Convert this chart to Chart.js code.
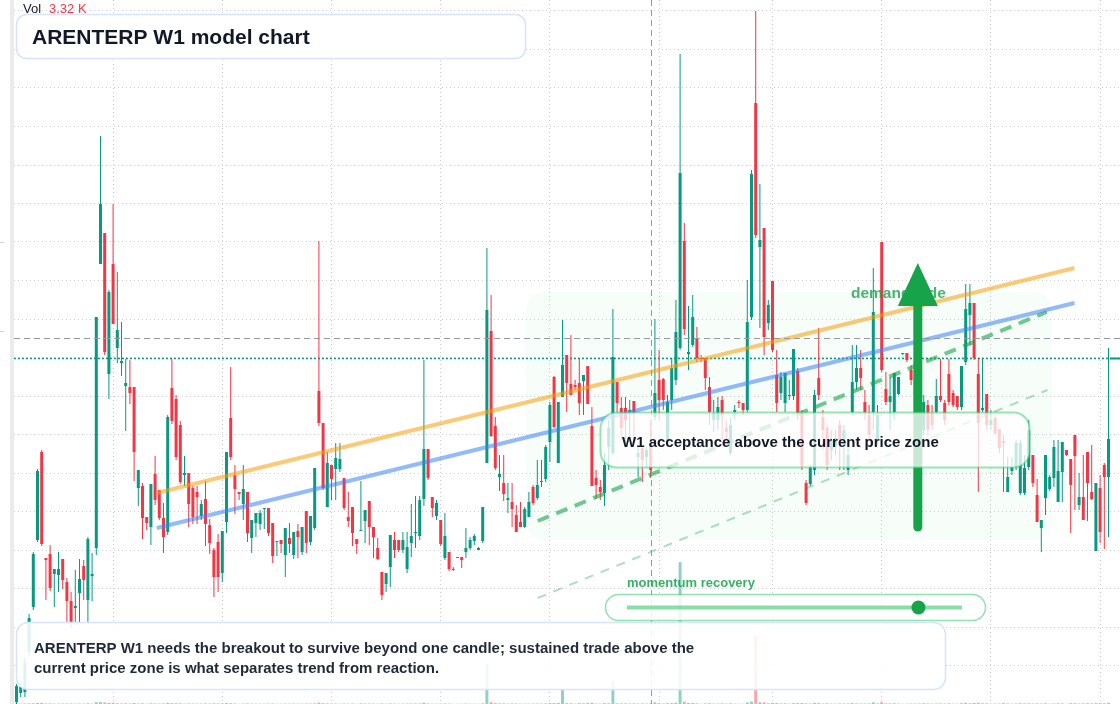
<!DOCTYPE html>
<html lang="en">
<head>
<meta charset="utf-8">
<title>ARENTERP W1 model chart</title>
<script src="https://cdn.jsdelivr.net/npm/chart.js@4.4.1/dist/chart.umd.min.js"></script>
<style>
  html, body { margin: 0; padding: 0; background: #ffffff; }
  canvas { display: block; }
</style>
</head>
<body>
<canvas id="w1Chart" width="1120" height="704"></canvas>
<script>
// weekly candles, oldest first (price units of the hidden right scale)
const opens = [
  2.02, 2.11, 2.12, 2.52, 2.97, 3.64, 4.52, 3.46, 3.50, 3.30,
  3.29, 3.45, 3.22, 3.03, 2.96, 3.11, 3.38, 3.04, 3.28, 3.56,
  6.40, 6.71, 5.30, 6.40, 5.56, 5.41, 5.18, 5.17, 5.17, 4.16,
  4.18, 3.87, 3.77, 4.30, 4.14, 3.86, 3.72, 5.16, 5.05, 4.79,
  4.29, 4.31, 4.16, 4.12, 3.88, 4.05, 3.79, 3.54, 3.62, 3.31,
  3.82, 4.86, 4.29, 4.12, 4.00, 4.12, 3.66, 3.81, 3.80, 3.95,
  3.96, 3.81, 3.62, 3.64, 3.49, 3.66, 3.49, 3.73, 3.52, 3.93,
  3.62, 3.76, 5.13, 4.81, 3.97, 4.39, 4.35, 4.35, 4.26, 3.87,
  3.97, 3.65, 3.73, 3.83, 4.03, 3.77, 3.56, 3.32, 3.20, 3.37,
  3.64, 3.64, 3.54, 3.35, 3.61, 3.71, 3.68, 4.05, 4.55, 4.07,
  3.88, 3.84, 3.46, 3.52, 3.35, 3.46, 3.47, 3.52, 3.56, 3.63,
  3.54, 3.63, 4.41, 5.73, 4.78, 4.27, 4.21, 4.04, 4.02, 3.89,
  3.82, 3.77, 3.87, 4.17, 4.06, 4.22, 4.25, 4.62, 5.27, 4.41,
  5.07, 5.49, 5.20, 5.19, 5.21, 5.23, 5.38, 4.78, 4.26, 4.17,
  4.11, 4.57, 4.51, 5.22, 4.96, 4.96, 4.92, 5.03, 4.47, 4.56,
  4.47, 4.61, 4.87, 5.24, 5.25, 4.64, 5.04, 5.24, 5.56, 6.63,
  5.50, 5.59, 5.66, 5.46, 5.46, 5.17, 4.84, 4.84, 5.04, 4.76,
  4.51, 4.92, 5.02, 5.01, 4.94, 5.87, 8.01, 6.57, 6.76, 5.81,
  6.23, 5.29, 5.11, 5.01, 5.08, 5.08, 5.33, 4.91, 4.21, 4.20,
  4.34, 5.26, 4.87, 4.76, 4.54, 4.58, 4.79, 4.59, 4.34, 4.92,
  5.22, 5.36, 5.02, 4.89, 4.92, 4.64, 6.62, 5.15, 5.02, 4.92,
  5.10, 5.50, 5.51, 5.34, 5.09, 5.19, 4.74, 4.99, 4.91, 4.92,
  5.08, 5.01, 5.30, 5.11, 5.08, 4.97, 5.42, 5.89, 6.01, 5.30,
  4.94, 5.10, 4.79, 4.86, 4.75, 4.63, 4.12, 4.33, 4.37, 4.11,
  4.11, 4.37, 4.49, 4.09, 3.76, 4.06, 4.15, 4.26, 4.02, 4.32,
  4.54, 4.45, 4.69, 3.99, 4.07, 4.52, 4.12, 3.53, 4.16, 4.39, 4.27
];
const highs = [
  2.20, 2.21, 2.46, 2.90, 3.52, 4.35, 4.54, 3.46, 3.59, 3.35,
  3.52, 3.45, 3.26, 3.12, 3.34, 3.45, 3.44, 3.67, 3.51, 5.87,
  7.68, 6.71, 6.14, 7.00, 6.32, 5.82, 5.45, 5.44, 5.17, 4.34,
  4.21, 3.87, 4.20, 4.48, 4.14, 4.01, 4.89, 5.45, 5.09, 4.83,
  4.48, 4.31, 4.18, 4.18, 4.04, 4.23, 3.85, 3.56, 3.70, 3.73,
  4.52, 5.37, 4.39, 4.12, 4.39, 4.12, 3.84, 3.91, 3.94, 3.96,
  3.96, 3.81, 3.63, 3.64, 3.76, 3.81, 3.72, 3.80, 3.77, 3.93,
  3.88, 4.36, 6.63, 4.81, 4.52, 4.39, 4.61, 4.61, 4.26, 4.12,
  3.97, 3.65, 4.23, 3.94, 4.03, 3.77, 3.66, 3.32, 3.31, 3.69,
  3.72, 3.64, 3.72, 3.72, 4.00, 4.08, 4.08, 5.44, 4.55, 4.07,
  4.04, 3.84, 3.91, 3.52, 3.37, 3.47, 3.47, 3.76, 3.67, 3.70,
  3.57, 3.97, 6.56, 6.09, 4.87, 4.49, 4.49, 4.21, 4.21, 3.99,
  4.02, 3.97, 4.12, 4.19, 4.44, 4.44, 4.59, 5.02, 5.28, 5.02,
  5.84, 5.49, 5.69, 5.24, 5.46, 5.29, 5.38, 4.97, 4.34, 4.24,
  4.51, 4.84, 5.95, 5.22, 5.07, 5.07, 5.04, 5.03, 4.58, 4.57,
  4.57, 4.84, 5.85, 5.54, 5.26, 5.09, 5.46, 6.04, 8.50, 6.81,
  5.98, 6.09, 5.77, 5.49, 5.46, 5.27, 5.04, 5.07, 5.08, 4.84,
  4.86, 4.99, 5.04, 5.01, 6.24, 7.34, 8.93, 7.20, 6.76, 6.04,
  6.23, 5.54, 5.32, 5.31, 5.24, 5.55, 5.36, 4.94, 4.24, 4.39,
  5.14, 5.76, 4.94, 4.79, 4.74, 4.74, 4.84, 4.79, 4.64, 5.59,
  5.59, 5.54, 5.14, 4.99, 6.36, 4.99, 6.62, 5.32, 5.27, 5.31,
  5.27, 5.51, 5.51, 5.39, 5.29, 5.24, 5.09, 5.04, 4.99, 5.25,
  5.45, 5.04, 5.45, 5.14, 5.08, 5.38, 6.20, 6.20, 6.01, 5.46,
  5.46, 5.10, 4.94, 4.89, 4.75, 4.69, 4.47, 4.47, 4.64, 4.64,
  4.49, 4.84, 4.49, 4.25, 3.84, 4.49, 4.29, 4.64, 4.64, 4.62,
  4.54, 4.45, 4.69, 4.31, 4.49, 4.52, 4.59, 4.21, 4.29, 4.41, 5.56
];
const lows = [
  2.00, 2.07, 2.07, 2.48, 2.94, 3.62, 3.58, 3.04, 3.13, 2.97,
  3.12, 3.15, 2.82, 2.76, 2.79, 2.82, 3.04, 2.82, 3.03, 3.49,
  6.40, 5.49, 5.05, 5.80, 5.41, 5.28, 4.73, 5.00, 4.23, 3.98,
  3.65, 3.74, 3.59, 3.99, 3.84, 3.51, 3.69, 4.80, 4.44, 4.20,
  4.18, 3.77, 3.80, 3.80, 3.84, 3.58, 3.50, 3.07, 3.12, 3.22,
  3.71, 4.44, 3.90, 4.04, 3.84, 3.62, 3.51, 3.67, 3.74, 3.75,
  3.68, 3.41, 3.48, 3.51, 3.27, 3.51, 3.45, 3.46, 3.49, 3.51,
  3.59, 3.74, 4.78, 4.14, 3.97, 4.04, 4.04, 4.32, 3.94, 3.77,
  3.58, 3.50, 3.73, 3.61, 3.59, 3.46, 3.44, 3.04, 3.12, 3.17,
  3.46, 3.52, 3.51, 3.31, 3.47, 3.56, 3.64, 3.98, 4.24, 3.87,
  3.84, 3.58, 3.44, 3.33, 3.33, 3.46, 3.36, 3.46, 3.54, 3.59,
  3.54, 3.61, 4.41, 4.67, 4.34, 4.13, 4.03, 3.91, 3.77, 3.72,
  3.77, 3.76, 3.87, 3.99, 4.04, 4.17, 4.22, 4.42, 4.76, 4.41,
  5.07, 4.92, 5.09, 5.14, 4.89, 4.89, 5.00, 4.18, 4.05, 4.04,
  3.98, 4.34, 4.49, 4.91, 4.64, 4.59, 4.67, 4.64, 4.27, 4.22,
  4.37, 4.26, 4.84, 4.84, 4.94, 4.59, 4.94, 5.19, 5.54, 5.69,
  5.34, 5.57, 5.42, 5.42, 5.14, 4.79, 4.72, 4.74, 4.64, 4.64,
  4.49, 4.84, 4.96, 4.89, 4.92, 5.84, 6.66, 5.76, 5.49, 5.74,
  5.52, 4.92, 5.04, 4.92, 5.04, 5.04, 4.84, 4.34, 3.99, 4.18,
  4.29, 5.04, 4.54, 4.34, 4.44, 4.49, 4.34, 4.34, 4.29, 4.89,
  5.14, 5.14, 4.84, 4.64, 4.74, 4.59, 5.32, 4.99, 4.74, 4.84,
  5.09, 5.49, 5.42, 5.19, 5.04, 4.99, 4.69, 4.69, 4.74, 4.90,
  5.02, 4.79, 4.99, 4.97, 4.94, 4.94, 5.39, 5.59, 5.44, 4.12,
  4.92, 4.74, 4.74, 4.69, 4.51, 4.12, 4.12, 4.29, 4.34, 4.09,
  4.09, 4.34, 4.17, 3.82, 3.52, 3.89, 4.13, 4.17, 4.02, 4.02,
  4.48, 3.71, 3.94, 3.94, 3.84, 3.83, 4.04, 3.53, 3.61, 3.55, 3.67
];
const closes = [
  2.18, 2.17, 2.42, 2.86, 3.50, 4.33, 3.60, 3.44, 3.16, 3.35,
  3.35, 3.24, 3.03, 2.82, 2.98, 3.25, 3.24, 3.65, 3.30, 5.87,
  7.00, 5.52, 6.12, 5.80, 5.74, 5.43, 5.21, 5.11, 4.52, 4.34,
  3.86, 3.81, 4.20, 4.04, 3.86, 3.67, 4.87, 4.83, 4.47, 4.22,
  4.31, 4.00, 3.87, 4.07, 4.00, 3.80, 3.61, 3.27, 3.27, 3.73,
  4.52, 4.47, 4.15, 4.10, 4.15, 3.71, 3.84, 3.91, 3.91, 3.96,
  3.71, 3.48, 3.63, 3.60, 3.76, 3.60, 3.72, 3.67, 3.77, 3.61,
  3.88, 4.36, 4.81, 4.16, 4.41, 4.25, 4.46, 4.45, 3.96, 3.83,
  3.71, 3.60, 3.74, 3.94, 3.77, 3.67, 3.45, 3.09, 3.31, 3.69,
  3.54, 3.54, 3.64, 3.57, 3.68, 3.72, 4.04, 4.55, 4.26, 3.96,
  4.01, 3.60, 3.68, 3.35, 3.34, 3.47, 3.44, 3.56, 3.64, 3.68,
  3.56, 3.97, 5.94, 4.68, 4.36, 4.30, 4.10, 4.06, 3.95, 3.72,
  3.77, 3.95, 4.02, 4.01, 4.19, 4.23, 4.57, 4.99, 4.77, 5.02,
  5.39, 5.21, 5.09, 5.17, 5.01, 5.29, 5.00, 4.18, 4.19, 4.12,
  4.39, 4.76, 5.47, 5.01, 4.76, 4.84, 4.94, 4.91, 4.51, 4.44,
  4.54, 4.34, 5.11, 5.04, 5.04, 5.02, 5.36, 5.72, 7.31, 5.75,
  5.52, 5.87, 5.46, 5.45, 5.26, 4.92, 4.91, 4.97, 4.89, 4.72,
  4.79, 4.94, 5.01, 4.94, 5.82, 7.30, 6.69, 6.64, 5.67, 5.99,
  5.54, 5.01, 5.27, 5.31, 5.09, 5.55, 4.91, 4.37, 4.01, 4.37,
  5.09, 5.09, 4.74, 4.39, 4.64, 4.66, 4.64, 4.74, 4.49, 5.22,
  5.36, 5.26, 4.92, 4.69, 5.92, 4.89, 5.34, 5.02, 5.08, 5.31,
  5.27, 5.51, 5.44, 5.24, 5.24, 5.04, 5.02, 4.74, 4.79, 5.08,
  5.04, 4.84, 5.02, 4.99, 4.97, 5.38, 5.95, 6.01, 5.46, 4.81,
  4.96, 4.79, 4.84, 4.71, 4.56, 4.61, 4.27, 4.37, 4.61, 4.61,
  4.36, 4.74, 4.21, 3.82, 3.84, 4.49, 4.27, 4.57, 4.33, 4.62,
  4.49, 4.19, 4.48, 4.07, 3.84, 4.21, 4.05, 4.21, 3.72, 4.27, 4.65
];
// weekly volume, thousands
const volumes = [
  2.1, 1.4, 1.8, 2.6, 3.0, 4.2, 4.8, 2.2, 2.5, 1.6, 1.9, 2.0, 2.3, 2.1, 1.7, 1.8, 1.9, 2.9, 1.6, 6.8,
  7.5, 6.1, 4.4, 5.2, 3.1, 2.2, 2.8, 2.0, 3.9, 2.1, 2.6, 1.4, 2.7, 2.3, 1.9, 2.2, 4.6, 3.4, 3.1, 2.9,
  1.5, 2.4, 2.0, 1.7, 1.6, 2.5, 1.9, 2.6, 2.4, 2.7, 3.6, 3.2, 2.0, 1.2, 1.9, 2.3, 1.8, 1.5, 1.4, 1.3,
  1.9, 2.2, 1.1, 1.2, 2.0, 1.5, 1.8, 1.6, 1.7, 2.1, 1.8, 2.9, 5.8, 3.3, 2.6, 1.9, 2.0, 1.4, 2.2, 1.6,
  2.1, 1.2, 2.3, 1.7, 2.2, 1.8, 1.5, 2.4, 1.6, 2.3, 1.7, 1.3, 1.5, 1.9, 2.1, 2.0, 2.2, 4.9, 2.4, 1.6,
  1.5, 2.0, 2.1, 1.8, 1.1, 1.0, 1.2, 1.9, 1.4, 1.3, 1.0, 2.4, 160, 7.2, 3.5, 2.4, 2.6, 1.8, 2.3, 2.1,
  1.4, 1.6, 1.7, 1.9, 2.0, 1.8, 2.6, 3.8, 4.1, 4.4, 60, 3.7, 2.9, 1.5, 3.2, 2.7, 3.9, 5.1, 1.9, 1.6,
  3.3, 3.0, 92, 2.8, 2.5, 2.4, 2.2, 2.6, 1.8, 2.2, 1.7, 3.32, 6.4, 3.5, 2.1, 3.4, 3.6, 5.2, 564, 8.4,
  4.1, 3.8, 2.7, 1.2, 2.6, 3.1, 1.9, 2.0, 2.8, 1.6, 2.7, 1.4, 1.1, 1.3, 6.3, 9.8, 272, 7.1, 6.6, 3.0,
  4.8, 3.9, 2.1, 2.6, 1.5, 3.3, 3.6, 3.9, 2.4, 1.9, 4.2, 3.7, 2.0, 2.8, 1.7, 1.6, 2.4, 2.1, 2.2, 3.6,
  2.3, 2.0, 2.1, 2.4, 6.7, 2.6, 7.4, 2.5, 2.3, 2.8, 1.9, 1.0, 1.3, 1.8, 2.0, 2.1, 2.9, 2.5, 1.7, 2.2,
  2.4, 1.9, 2.6, 1.5, 1.4, 3.1, 4.8, 2.7, 4.3, 5.0, 2.9, 2.6, 1.5, 1.7, 2.0, 3.2, 2.3, 1.4, 2.2, 3.0,
  2.4, 2.5, 2.1, 2.7, 1.8, 3.1, 1.4, 2.2, 2.6, 2.4, 0.9, 3.3, 3.0, 1.9, 2.7, 3.1, 2.4, 3.4, 3.2, 3.0, 4.9
];

// vertical grid falls on these weeks, horizontal grid on these price levels
const gridWeeks = [23, 49, 75, 101, 127, 153, 180, 206, 232, 258];
const priceLevels = [2.000, 2.385, 2.770, 3.155, 3.540, 3.925, 4.310, 4.695, 5.080, 5.465,
  5.850, 6.235, 6.620, 7.005, 7.390, 7.775, 8.160, 8.545, 8.930];

// drawn studies (week index, price)
const upperTrend = [{ x: 33.4, y: 4.11 }, { x: 251.9, y: 6.36 }];
const lowerTrend = [{ x: 33.4, y: 3.76 }, { x: 251.9, y: 6.01 }];
const channelTop = [{ x: 124.1, y: 3.83 }, { x: 245.3, y: 5.92 }];
const channelBottom = [{ x: 124.1, y: 3.06 }, { x: 245.5, y: 5.14 }];
const demandZone = { from: 121.3, to: 246.5, low: 3.64, high: 6.12 };
const demandArrow = { week: 214.6, from: 3.77, to: 6.41 };
const crosshair = { week: 151, price: 5.655 };
const lastPrice = 5.46;
const hoverVolume = '3.32 K';
const momentumLevel = 0.87;

const UP = '#089981';
const DOWN = '#f23645';
const FONT = '"Liberation Sans", Arial, Helvetica, sans-serif';

const weeks = opens.map((_, i) => i);
const rising = weeks.map(i => closes[i] >= opens[i]);

function roundRect(ctx, x, y, w, h, r) {
  ctx.beginPath();
  ctx.moveTo(x + r, y);
  ctx.arcTo(x + w, y, x + w, y + h, r);
  ctx.arcTo(x + w, y + h, x, y + h, r);
  ctx.arcTo(x, y + h, x, y, r);
  ctx.arcTo(x, y, x + w, y, r);
  ctx.closePath();
}

// zone + price line under the candles
const underlay = {
  id: 'underlay',
  beforeDatasetsDraw(chart) {
    const { ctx, scales: { x, y }, chartArea } = chart;
    ctx.save();
    const zx0 = x.getPixelForValue(demandZone.from);
    const zx1 = x.getPixelForValue(demandZone.to);
    const zy0 = y.getPixelForValue(demandZone.high);
    const zy1 = y.getPixelForValue(demandZone.low);
    roundRect(ctx, zx0, zy0, zx1 - zx0, zy1 - zy0, 18);
    ctx.fillStyle = 'rgba(34,197,94,0.035)';
    ctx.fill();

    const lp = Math.round(y.getPixelForValue(lastPrice)) + 0.5;
    ctx.strokeStyle = UP;
    ctx.lineWidth = 1.5;
    ctx.setLineDash([2, 2]);
    ctx.beginPath();
    ctx.moveTo(chartArea.left, lp);
    ctx.lineTo(chartArea.right - 10, lp);
    ctx.stroke();
    ctx.setLineDash([]);
    ctx.lineWidth = 2;
    ctx.beginPath();
    ctx.moveTo(chartArea.right - 10, lp);
    ctx.lineTo(chartArea.right, lp);
    ctx.stroke();
    ctx.restore();
  }
};

// annotations on top
const overlay = {
  id: 'overlay',
  afterDatasetsDraw(chart) {
    const { ctx, scales: { x, y }, chartArea } = chart;
    ctx.save();

    // crosshair
    ctx.strokeStyle = '#9598a1';
    ctx.lineWidth = 1;
    ctx.setLineDash([6, 4]);
    const cx = Math.round(x.getPixelForValue(crosshair.week)) + 0.5;
    const cy = Math.round(y.getPixelForValue(crosshair.price)) + 0.5;
    ctx.beginPath();
    ctx.moveTo(cx, chartArea.top);
    ctx.lineTo(cx, chartArea.bottom);
    ctx.moveTo(chartArea.left, cy);
    ctx.lineTo(chartArea.right, cy);
    ctx.stroke();
    ctx.setLineDash([]);

    // demand label, then the arrow over it
    ctx.font = 'bold 15.5px ' + FONT;
    ctx.fillStyle = 'rgba(22,163,74,0.8)';
    ctx.textBaseline = 'alphabetic';
    ctx.fillText('demand side', 851, 298);

    const ax = x.getPixelForValue(demandArrow.week);
    const tail = y.getPixelForValue(demandArrow.from);
    const tip = y.getPixelForValue(demandArrow.to);
    ctx.strokeStyle = '#16a34a';
    ctx.fillStyle = '#16a34a';
    ctx.lineWidth = 9;
    ctx.lineCap = 'round';
    ctx.beginPath();
    ctx.moveTo(ax, tail);
    ctx.lineTo(ax, tip + 40);
    ctx.stroke();
    ctx.lineCap = 'butt';
    ctx.beginPath();
    ctx.moveTo(ax, tip);
    ctx.lineTo(ax - 20, tip + 43);
    ctx.lineTo(ax + 20, tip + 43);
    ctx.closePath();
    ctx.fill();

    // callout
    roundRect(ctx, 600.5, 412.5, 429, 55, 16);
    ctx.fillStyle = 'rgba(255,255,255,0.76)';
    ctx.fill();
    ctx.strokeStyle = 'rgba(34,197,94,0.45)';
    ctx.lineWidth = 2;
    ctx.stroke();
    ctx.fillStyle = '#111827';
    ctx.font = 'bold 15px ' + FONT;
    ctx.fillText('W1 acceptance above the current price zone', 622, 447);

    // momentum gauge
    ctx.fillStyle = 'rgba(22,163,74,0.85)';
    ctx.font = 'bold 13px ' + FONT;
    ctx.fillText('momentum recovery', 627, 587);
    roundRect(ctx, 605.5, 594.5, 380, 26, 13);
    ctx.fillStyle = 'rgba(255,255,255,0.85)';
    ctx.fill();
    ctx.strokeStyle = 'rgba(34,197,94,0.5)';
    ctx.lineWidth = 1.5;
    ctx.stroke();
    const s0 = 627, s1 = 962, sy = 607.5;
    ctx.strokeStyle = 'rgba(34,197,94,0.55)';
    ctx.lineWidth = 4;
    ctx.beginPath();
    ctx.moveTo(s0, sy);
    ctx.lineTo(s1, sy);
    ctx.stroke();
    ctx.fillStyle = '#16a34a';
    ctx.beginPath();
    ctx.arc(s0 + (s1 - s0) * momentumLevel, sy, 7, 0, Math.PI * 2);
    ctx.fill();

    // note
    roundRect(ctx, 16.5, 622.5, 929, 67, 12);
    ctx.fillStyle = 'rgba(255,255,255,0.88)';
    ctx.fill();
    ctx.strokeStyle = '#d6e3fa';
    ctx.lineWidth = 1.5;
    ctx.stroke();
    ctx.fillStyle = '#1f2937';
    ctx.font = 'bold 15px ' + FONT;
    ctx.fillText('ARENTERP W1 needs the breakout to survive beyond one candle; sustained trade above the', 34, 653);
    ctx.fillText('current price zone is what separates trend from reaction.', 34, 673);

    // title
    roundRect(ctx, 16.5, 14.5, 509, 44, 10);
    ctx.fillStyle = '#ffffff';
    ctx.fill();
    ctx.strokeStyle = '#d6e3fa';
    ctx.lineWidth = 1.5;
    ctx.stroke();
    ctx.fillStyle = '#111827';
    ctx.font = 'bold 21px ' + FONT;
    ctx.fillText('ARENTERP W1 model chart', 32, 44);

    // volume legend
    ctx.font = '13px ' + FONT;
    ctx.fillStyle = '#131722';
    ctx.fillText('Vol', 23, 13);
    ctx.fillStyle = DOWN;
    ctx.fillText(hoverVolume, 49, 13);

    // left pane edge
    ctx.fillStyle = '#ebebeb';
    ctx.fillRect(10, 0, 4, 704);
    ctx.strokeStyle = '#d0d0d0';
    ctx.lineWidth = 1;
    ctx.beginPath();
    ctx.moveTo(0, 242.5); ctx.lineTo(4, 242.5);
    ctx.moveTo(0, 331.5); ctx.lineTo(4, 331.5);
    ctx.stroke();

    ctx.restore();
  }
};

new Chart(document.getElementById('w1Chart'), {
  type: 'bar',
  data: {
    datasets: [
      {
        type: 'line',
        data: upperTrend,
        borderColor: 'rgba(245,158,11,0.55)',
        borderWidth: 4,
        pointRadius: 0,
        order: 0
      },
      {
        type: 'line',
        data: lowerTrend,
        borderColor: 'rgba(59,130,246,0.55)',
        borderWidth: 4,
        pointRadius: 0,
        order: 0
      },
      {
        type: 'line',
        data: channelTop,
        borderColor: 'rgba(22,163,74,0.6)',
        borderWidth: 4,
        borderDash: [12, 8],
        pointRadius: 0,
        order: 0
      },
      {
        type: 'line',
        data: channelBottom,
        borderColor: 'rgba(22,163,74,0.35)',
        borderWidth: 2,
        borderDash: [9, 8],
        pointRadius: 0,
        order: 0
      },
      {
        label: 'body',
        data: weeks.map(i => ({ x: i, y: [Math.min(opens[i], closes[i]), Math.max(opens[i], closes[i])] })),
        backgroundColor: weeks.map(i => rising[i] ? UP : DOWN),
        barThickness: 3,
        order: 1
      },
      {
        label: 'wick',
        data: weeks.map(i => ({ x: i, y: [lows[i], highs[i]] })),
        backgroundColor: weeks.map(i => rising[i] ? UP : DOWN),
        barThickness: 1,
        order: 2
      },
      {
        label: 'volume',
        yAxisID: 'yVol',
        data: weeks.map(i => ({ x: i, y: volumes[i] })),
        backgroundColor: weeks.map(i => rising[i] ? 'rgba(8,153,129,0.45)' : 'rgba(242,54,69,0.45)'),
        barThickness: 3,
        order: 3
      }
    ]
  },
  options: {
    responsive: false,
    animation: false,
    devicePixelRatio: 1,
    events: [],
    layout: { padding: { left: 14, right: 0, top: 0, bottom: 0 } },
    datasets: {
      bar: { grouped: false, borderWidth: 0, inflateAmount: 0 }
    },
    plugins: {
      legend: { display: false },
      tooltip: { enabled: false }
    },
    scales: {
      x: {
        type: 'linear',
        min: -0.595,
        max: 262.738,
        offset: false,
        afterBuildTicks: s => { s.ticks = gridWeeks.map(v => ({ value: v })); },
        ticks: { display: false },
        grid: { color: 'rgba(0,0,0,0.2)', drawTicks: false, offset: false },
        border: { display: false, dash: [1, 3] }
      },
      y: {
        position: 'right',
        min: 2.0,
        max: 9.04,
        afterBuildTicks: s => { s.ticks = priceLevels.map(v => ({ value: v })); },
        ticks: { display: false },
        grid: { color: 'rgba(0,0,0,0.2)', drawTicks: false },
        border: { display: false, dash: [1, 3] }
      },
      yVol: {
        display: false,
        min: 0,
        max: 2800
      }
    }
  },
  plugins: [underlay, overlay]
});
</script>
</body>
</html>
